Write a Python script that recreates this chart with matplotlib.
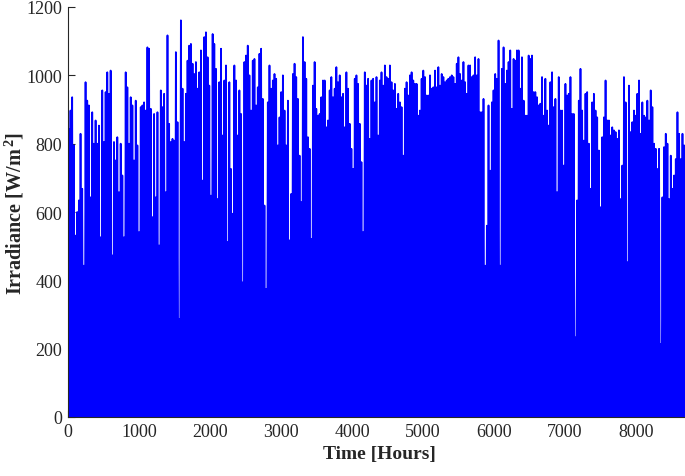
import numpy as np
import matplotlib.pyplot as plt

plt.rcParams['font.family'] = ['Liberation Serif', 'DejaVu Serif']
plt.rcParams['mathtext.fontset'] = 'custom'
plt.rcParams['mathtext.rm'] = 'Liberation Serif'
plt.rcParams['mathtext.bf'] = 'Liberation Serif:bold'

# daily peak irradiance [W/m^2] (one value per day, Jan -> Dec)
peaks_q1 = [843, 897, 936, 795, 531, 600, 634, 829, 668, 443, 980, 926, 912, 643, 892, 800,
            868, 800, 853, 526, 956, 805, 951, 1009, 946, 1014, 473, 805, 751, 819, 658, 800,
            707, 526, 1009, 965, 800, 936, 912, 751, 926, 795, 541, 907, 912, 921, 897, 1082,
            1078, 902, 585, 887, 643, 892, 502, 956, 907, 946, 658, 1117, 858,
            805, 814, 809, 1068, 863, 287, 1161, 961, 805, 946, 1043, 1087, 1092, 1034, 1004,
            1039, 961, 1009, 1073, 692, 1112, 1126, 1053, 970, 648, 1121, 1092, 1019, 638, 980]
peaks_q2 = [1078, 824, 985, 1029, 512, 980, 726, 595, 1029, 985, 824, 956, 887, 394, 1039,
            1058, 1087, 1000, 897, 1043, 1048, 912, 965, 1063, 1078, 931, 619, 375, 921, 1029,
            961, 985, 1004,
            990, 795, 877, 951, 1000, 897, 795, 926, 517, 653, 1004, 1034, 995, 931, 765, 629,
            1112, 1039, 990, 819, 785, 521, 970, 1039, 902, 882, 887, 936, 985, 985, 848, 868,
            956, 995, 936, 961, 1024, 980, 1000, 936, 946, 848, 1009, 961, 858, 785, 726, 990,
            1000, 975, 858, 746, 541, 1009, 970, 990, 814, 985, 990, 921, 995, 824, 985]
peaks_q3 = [1009, 970, 1029, 995, 990, 1029, 980, 956, 975, 902, 946, 921, 907, 765, 961, 980,
            941, 1000, 1009, 985, 975, 975, 882, 897, 990, 1014, 995, 941, 941, 1000, 961, 965,
            1014, 965, 1024, 970, 1004, 995, 980, 985, 990, 995, 1000, 995, 975, 1034, 1053,
            1004, 985, 1039, 980, 946, 1029, 1029, 995, 1000, 1053, 1000, 1048, 892, 892, 931,
            443, 560, 912, 721, 921, 956, 1004, 990, 1102, 443, 1019, 1082, 975, 1014, 1039,
            1073, 902, 1048, 1043, 1073, 1073, 961, 1053, 926, 882, 882, 1058, 1048, 1058, 951]
peaks_q4 = [951, 936, 912, 917, 995, 882, 990, 897, 853, 980, 1009, 907, 931, 658, 995, 897,
            897, 736, 975, 941, 946, 995, 887, 887, 233, 634, 926, 1019, 897, 809, 946, 951, 800,
            668, 921, 946, 897, 877, 780, 614, 819, 877, 985, 868, 868, 824, 848, 839, 834, 814,
            839, 638, 736, 995, 921, 453, 970, 834, 863, 897, 882, 946, 985, 829, 921, 882, 877,
            926, 868, 956, 907, 800, 785, 726, 785, 214, 643, 790, 829, 800, 638, 765, 668, 707,
            755, 892, 829, 755, 829, 795, 736, 795, 72]

peaks = np.array(peaks_q1 + peaks_q2 + peaks_q3 + peaks_q4)
hours_in_year = 8760

# hourly-like trace: 0 at each midnight, daily peak at noon
day_len = hours_in_year / len(peaks)
start = np.arange(len(peaks)) * day_len
t = np.column_stack([start, start + 0.5 * day_len]).ravel()
g = np.column_stack([np.zeros_like(peaks), peaks]).ravel()
t = np.append(t, hours_in_year)
g = np.append(g, 0)

fig = plt.figure(figsize=(6.85, 4.77), dpi=100)
ax = fig.add_axes([68 / 685, 59 / 477, 622 / 685, 410 / 477])
ax.plot(t, g, color=(0, 0, 1), lw=1.25)

ax.set_xlim(0, hours_in_year)
ax.set_ylim(0, 1200)
ax.set_xticks(np.arange(0, 9000, 1000))
ax.set_yticks(np.arange(0, 1201, 200))
ax.spines['top'].set_visible(False)
ax.spines['right'].set_visible(False)
for s in ['left', 'bottom']:
    ax.spines[s].set_color('#262626')
    ax.spines[s].set_linewidth(0.8)
    ax.spines[s].set_zorder(3)
ax.tick_params(direction='in', length=5, width=0.8, colors='#262626', labelsize=13, pad=4)

ax.set_xlabel('Time [Hours]', fontsize=14, fontweight='bold', color='#262626', labelpad=4)
ax.set_ylabel(r'Irradiance [W/m$^{\,\mathbf{2}}$]', fontsize=14.5, fontweight='bold',
              color='#262626', labelpad=0)

fig.savefig('out.png', dpi=100)
